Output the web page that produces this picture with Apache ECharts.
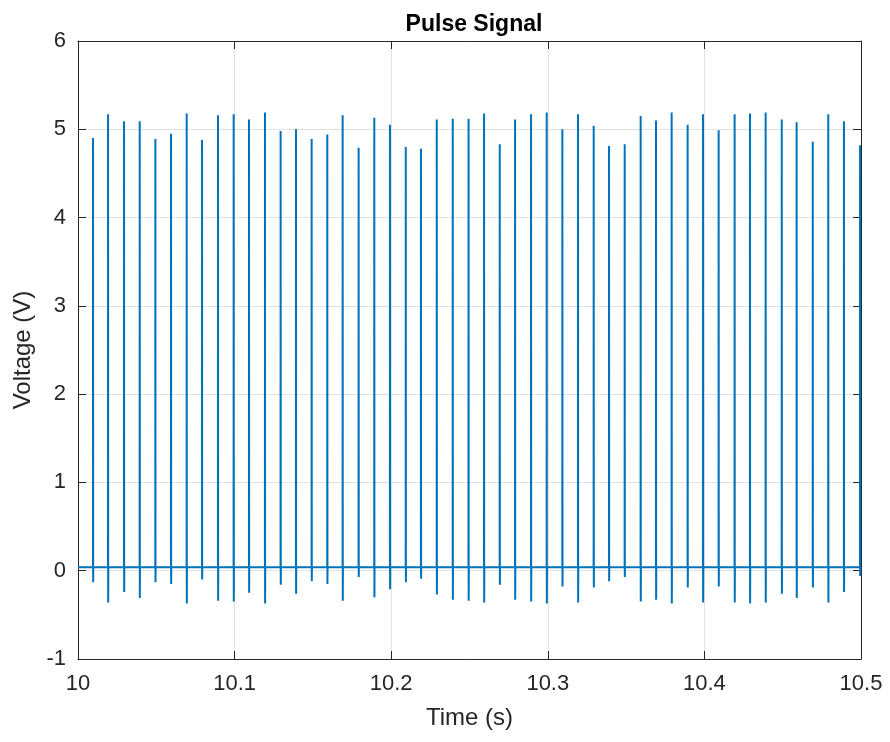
<!DOCTYPE html>
<html>
<head>
<meta charset="utf-8">
<title>Pulse Signal</title>
<script src="https://cdn.jsdelivr.net/npm/echarts@6/dist/echarts.min.js"></script>
<style>
  html, body { margin: 0; padding: 0; background: #ffffff; }
  #chart { width: 890px; height: 742px; }
</style>
</head>
<body>
<div id="chart"></div>
<script>
// Pulse instants (s)
const pulseTimes = [
  10.0096, 10.0192, 10.0294, 10.0394, 10.0494, 10.0594, 10.0694, 10.0792, 10.0894, 10.0994,
  10.1092, 10.1194, 10.1294, 10.1392, 10.1492, 10.1592, 10.1690, 10.1792, 10.1892, 10.1992,
  10.2093, 10.2190, 10.2291, 10.2393, 10.2494, 10.2593, 10.2693, 10.2791, 10.2893, 10.2993,
  10.3093, 10.3193, 10.3293, 10.3391, 10.3491, 10.3593, 10.3691, 10.3791, 10.3893, 10.3991,
  10.4091, 10.4193, 10.4291, 10.4391, 10.4494, 10.4589, 10.4692, 10.4791, 10.4891, 10.4994
];
// Peak voltage of each pulse (V)
const peakVolts = [
  4.90, 5.17, 5.09, 5.09, 4.89, 4.95, 5.18, 4.88, 5.16, 5.17,
  5.11, 5.19, 4.98, 5.00, 4.89, 4.94, 5.16, 4.79, 5.13, 5.05,
  4.80, 4.78, 5.11, 5.12, 5.12, 5.18, 4.83, 5.11, 5.17, 5.19,
  5.00, 5.17, 5.04, 4.81, 4.83, 5.15, 5.10, 5.19, 5.05, 5.17,
  4.99, 5.17, 5.18, 5.19, 5.11, 5.08, 4.86, 5.17, 5.09, 4.82
];
// Undershoot after each pulse (V)
const undershootVolts = [
  -0.13, -0.36, -0.24, -0.31, -0.13, -0.15, -0.37, -0.10, -0.34, -0.35,
  -0.25, -0.37, -0.16, -0.26, -0.12, -0.15, -0.34, -0.07, -0.30, -0.21,
  -0.13, -0.09, -0.27, -0.33, -0.34, -0.36, -0.16, -0.33, -0.35, -0.37,
  -0.18, -0.36, -0.19, -0.12, -0.07, -0.35, -0.33, -0.37, -0.19, -0.36,
  -0.18, -0.36, -0.37, -0.36, -0.26, -0.31, -0.19, -0.36, -0.24, -0.06
];
// Resting level between pulses (V)
const baselineVolt = 0.04;

// Axis ranges and tick steps
const timeRange = [10, 10.5];
const timeStep = 0.1;
const voltRange = [-1, 6];
const voltStep = 1;

// Assemble the sampled waveform: rest -> peak -> undershoot -> rest
const waveform = [[timeRange[0], baselineVolt]];
pulseTimes.forEach((t, i) => {
  waveform.push([t - 0.00004, baselineVolt]);
  waveform.push([t, peakVolts[i]]);
  waveform.push([t + 0.00008, undershootVolts[i]]);
  waveform.push([t + 0.00016, baselineVolt]);
});
waveform.push([timeRange[1], baselineVolt]);

const ink = '#262626';
const gridInk = '#e2e2e2';
const font = '"Liberation Sans", Arial, Helvetica, sans-serif';

const frameAxis = (extra) => Object.assign({
  type: 'value',
  axisLine: { show: true, onZero: false, lineStyle: { color: ink, width: 1 } },
  axisTick: { show: true, inside: true, length: 8, lineStyle: { color: ink, width: 1 } },
  axisLabel: { show: false },
  splitLine: { show: false }
}, extra);

const chart = echarts.init(document.getElementById('chart'), null, { renderer: 'canvas' });
chart.setOption({
  animation: false,
  backgroundColor: '#ffffff',
  title: {
    text: 'Pulse Signal',
    left: 469, top: 8, textAlign: 'center',
    textStyle: { fontFamily: font, fontSize: 23, fontWeight: 'bold', color: '#000000' }
  },
  grid: { left: 78, right: 29, top: 41, bottom: 83, containLabel: false },
  xAxis: [
    frameAxis({
      position: 'bottom',
      min: timeRange[0], max: timeRange[1], interval: timeStep,
      name: 'Time (s)', nameLocation: 'middle', nameGap: 47,
      nameTextStyle: { fontFamily: font, fontSize: 24, color: ink },
      axisLabel: {
        show: true, margin: 14, fontFamily: font, fontSize: 22, color: ink,
        formatter: v => String(+v.toFixed(1))
      },
      splitLine: { show: true, lineStyle: { color: gridInk, width: 1 } }
    }),
    frameAxis({ position: 'top', min: timeRange[0], max: timeRange[1], interval: timeStep })
  ],
  yAxis: [
    frameAxis({
      position: 'left',
      min: voltRange[0], max: voltRange[1], interval: voltStep,
      name: 'Voltage (V)', nameLocation: 'middle', nameGap: 40, nameRotate: 90,
      nameTextStyle: { fontFamily: font, fontSize: 24, color: ink },
      axisLabel: { show: true, margin: 12, fontFamily: font, fontSize: 22, color: ink },
      splitLine: { show: true, lineStyle: { color: gridInk, width: 1 } }
    }),
    frameAxis({ position: 'right', min: voltRange[0], max: voltRange[1], interval: voltStep })
  ],
  series: [{
    type: 'line',
    xAxisIndex: 0, yAxisIndex: 0,
    data: waveform,
    showSymbol: false,
    sampling: null,
    clip: true,
    lineStyle: { color: '#0072BD', width: 2 },
    emphasis: { disabled: true },
    z: 3
  }]
});
</script>
</body>
</html>
